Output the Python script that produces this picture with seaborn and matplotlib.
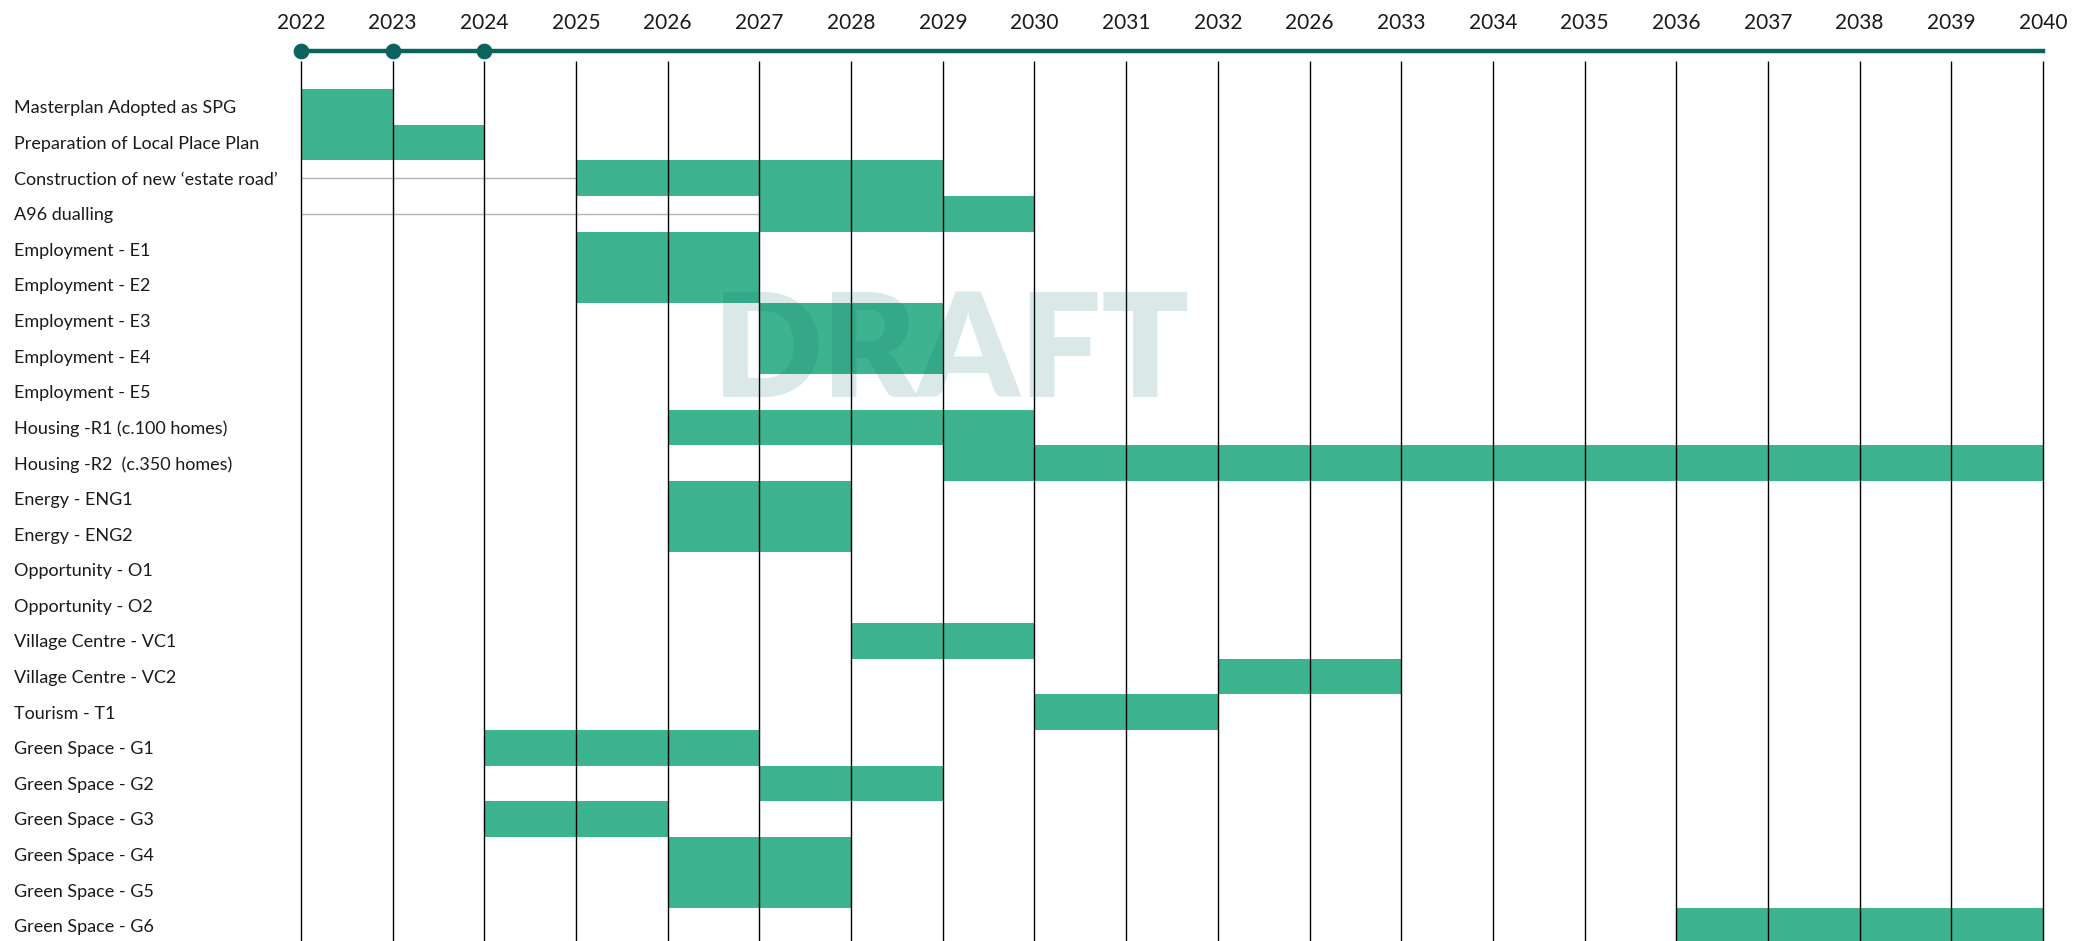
import numpy as np
import pandas as pd
import matplotlib.pyplot as plt
import seaborn as sns

annees = ["2022", "2023", "2024", "2025", "2026", "2027", "2028", "2029", "2030", "2031",
          "2032", "2026", "2033", "2034", "2035", "2036", "2037", "2038", "2039", "2040"]
taches = ["Masterplan Adopted as SPG", "Preparation of Local Place Plan",
          "Construction of new \u2018estate road\u2019", "A96 dualling",
          "Employment - E1", "Employment - E2", "Employment - E3", "Employment - E4",
          "Employment - E5", "Housing -R1 (c.100 homes)", "Housing -R2  (c.350 homes)",
          "Energy - ENG1", "Energy - ENG2", "Opportunity - O1", "Opportunity - O2",
          "Village Centre - VC1", "Village Centre - VC2", "Tourism - T1",
          "Green Space - G1", "Green Space - G2", "Green Space - G3", "Green Space - G4",
          "Green Space - G5", "Green Space - G6"]
# position (index dans annees) du début et de la fin de chaque barre
debut = [0, 0, 3, 5, 3, 3, 5, 5, None, 4, 7, 4, 4, None, None, 6, 10, 8, 2, 5, 2, 4, 4, 15]
fin = [1, 2, 7, 8, 5, 5, 7, 7, None, 8, 19, 6, 6, None, None, 8, 12, 10, 5, 7, 4, 6, 6, 19]
jalons = [0, 1, 2]

df = pd.DataFrame({"Tache": taches, "Debut": debut, "Fin": fin})
df = df.dropna()

sns.set_theme(style="white")
plt.rcParams["font.family"] = ["Lato", "Liberation Sans", "DejaVu Sans"]

vert = "#3db38f"
teal = "#0b6360"
n = len(annees) - 1
haut = -1.573
bas = 23.43

fig = plt.figure(figsize=(20.9, 9.41), dpi=100)
ax = fig.add_axes([301 / 2090, 0, (2043 - 301) / 2090, 890 / 941])

ax.barh(df.index, df["Fin"] - df["Debut"], left=df["Debut"], height=1.0,
        color=vert, linewidth=0, zorder=2)

# traits gris jusqu'au début des travaux routiers
for i in [2, 3]:
    ax.hlines(i, 0, debut[i], color="#b5b5b5", lw=1, zorder=1)

ax.vlines(range(n + 1), -1.3, bas, color="black", lw=1, zorder=3, clip_on=False)

sns.scatterplot(x=jalons, y=[haut] * len(jalons), s=110, color=teal,
                edgecolor=teal, clip_on=False, zorder=5, ax=ax)

ax.text(7.10, 8.15, "DRAFT", ha="center", va="baseline", fontsize=104,
        fontweight="heavy", color="#0b6b64", alpha=0.15, zorder=4)

ax.set_xlim(0, n)
ax.set_ylim(bas, haut)
ax.set_xlabel("")
ax.set_ylabel("")

ax.xaxis.tick_top()
ax.set_xticks(range(n + 1))
ax.set_xticklabels(annees, fontsize=15, color="#1a1a1a")
ax.tick_params(axis="x", length=0, pad=13)

ax.set_yticks(range(len(taches)))
ax.set_yticklabels(taches, fontsize=13, color="#1a1a1a", ha="left")
ax.tick_params(axis="y", length=0, pad=207)

for s in ["left", "right", "bottom"]:
    ax.spines[s].set_visible(False)
ax.spines["top"].set_color(teal)
ax.spines["top"].set_linewidth(3.2)
ax.grid(False)

plt.savefig("out.png", dpi=100)
